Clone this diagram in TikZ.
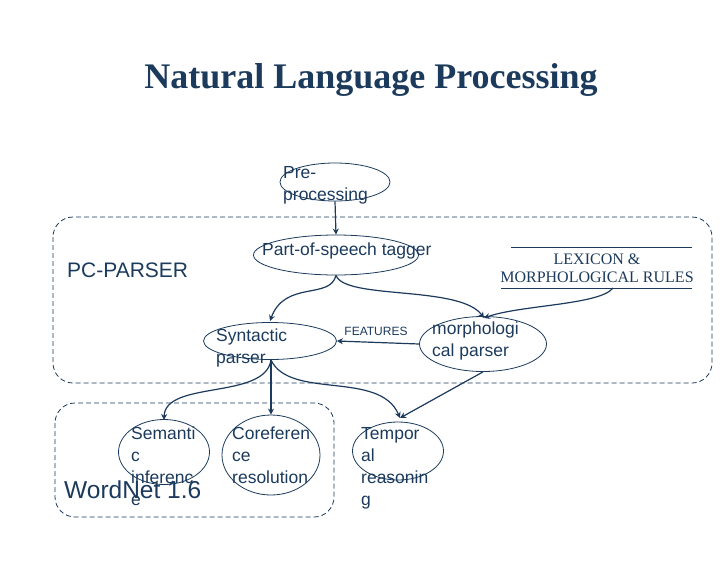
\documentclass[tikz,border=0pt]{standalone}
\usepackage{fontspec}
\setmainfont{Liberation Serif}
\setsansfont{Liberation Sans}
\usetikzlibrary{arrows.meta,shapes.geometric}
\definecolor{navy}{HTML}{1B3A5C}
\begin{document}
\begin{tikzpicture}[x=1pt,y=-1pt,
  ell/.style={draw=navy,ellipse,inner sep=0pt,line width=0.8pt},
  lbl/.style={font=\sffamily\fontsize{17.5}{22}\selectfont,text=navy,align=left,anchor=north west,inner sep=0pt},
  box/.style={draw=navy,line width=0.8pt,dash pattern=on 5pt off 3pt,rounded corners=20pt},
  arr/.style={draw=navy,line width=1.2pt,-{Stealth[length=6pt,width=6pt]}}]
\useasboundingbox (0,0) rectangle (720,576);
\node[font=\bfseries\fontsize{36}{40}\selectfont,text=navy] (title) at (371,80) {Natural Language Processing};
% boxes
\draw[box] (53,217) rectangle (712,383);
\draw[box] (55,403) rectangle (334,517);
% ellipses
\node[ell,minimum width=110pt,minimum height=38pt] (pre) at (335,182) {};
\node[lbl] (pret) at (283,166) {Pre-\\processing};
\node[ell,minimum width=165pt,minimum height=40pt] (pos) at (336,255) {};
\node[lbl] (post) at (262,243) {Part-of-speech tagger};
\node[ell,minimum width=133pt,minimum height=37pt] (syn) at (270,341) {};
\node[lbl] (synt) at (216,329) {Syntactic\\parser};
\node[ell,minimum width=127pt,minimum height=55pt] (mor) at (483,344) {};
\node[lbl] (mort) at (432,322) {morphologi\\cal parser};
\node[ell,minimum width=91pt,minimum height=65pt] (sem) at (164,452) {};
\node[lbl] (semt) at (131,427) {Semanti\\c\\inferenc\\e};
\node[ell,minimum width=98pt,minimum height=80pt] (cor) at (271,455) {};
\node[lbl] (cort) at (232,427) {Coreferen\\ce\\resolution};
\node[ell,minimum width=91pt,minimum height=58pt] (tem) at (398,451) {};
\node[lbl] (temt) at (361,427) {Tempor\\al\\reasonin\\g};
% labels
\node[font=\sffamily\fontsize{21}{24}\selectfont,text=navy,anchor=west,inner sep=0pt] (pc) at (67,270) {PC-PARSER};
\node[font=\sffamily\fontsize{24.5}{28}\selectfont,text=navy,anchor=west,inner sep=0pt] (wn) at (64,490) {WordNet 1.6};
\node[font=\sffamily\fontsize{12}{14}\selectfont,text=navy,inner sep=0pt] (feat) at (376,331) {FEATURES};
\node[font=\fontsize{16}{18}\selectfont,text=navy,align=center,inner sep=0pt] (lex) at (597,268) {LEXICON \&\\MORPHOLOGICAL RULES};
\draw[navy] (511,247) -- (692,247) (501,288) -- (692,288);
\coordinate (lexb) at (613,288);
% arrows
\draw[arr] (pre.south) -- (pos.north);
\draw[arr] (pos.south) .. controls (330,300) and (285,280) .. (270,321);
\draw[arr] (pos.south) .. controls (345,300) and (460,285) .. (484,318);
\draw[arr] (lexb) .. controls (600,305) and (520,305) .. (484,318);
\draw[arr] (mor.west) -- (syn.east);
\draw[arr] (271,360) .. controls (265,400) and (165,380) .. (164,420);
\draw[arr] (271,360) -- (cor.north);
\draw[arr] (271,360) .. controls (290,400) and (380,370) .. (400,418);
\draw[arr] (mor.south) -- (400,418);
\end{tikzpicture}
\end{document}
